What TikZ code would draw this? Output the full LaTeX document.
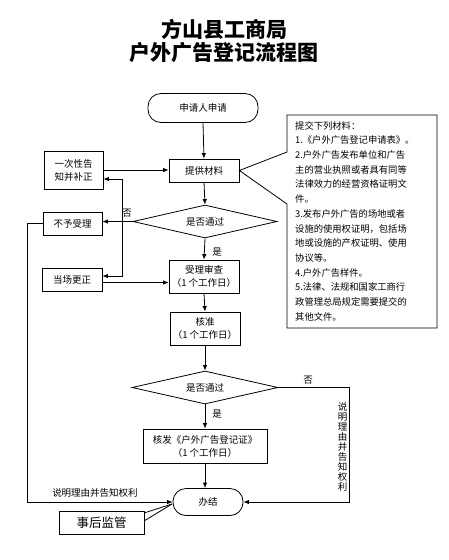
\documentclass[tikz,border=0pt]{standalone}
\usepackage{fontspec}
\setmainfont{Noto Sans CJK SC}
\usetikzlibrary{arrows.meta,shapes.geometric}
\tikzset{
  every node/.style={inner sep=0pt},
  nfont/.style={font=\fontsize{9.5}{13}\selectfont},
  box/.style={draw, rectangle, line width=0.8pt, align=center, nfont},
  term/.style={draw, rectangle, rounded corners=13pt, line width=0.8pt, align=center, nfont},
  dia/.style={draw, diamond, aspect=4.4, line width=0.8pt, align=center, nfont},
  arr/.style={line width=0.8pt, -{Latex[length=5.5pt,width=4.5pt]}},
  ln/.style={line width=0.8pt},
  lbl/.style={nfont}
}
\begin{document}
\begin{tikzpicture}[x=1pt,y=-1pt]
\useasboundingbox (0,0) rectangle (449,560);
% title
\node (t1) at (224,29) {\fontsize{21}{24}\selectfont\bfseries 方山县工商局};
\node (t2) at (224,53) {\fontsize{21}{24}\selectfont\bfseries 户外广告登记流程图};
% nodes
\node[term, minimum width=110pt, minimum height=29pt] (start) at (203,108) {申请人申请};
\node[box, minimum width=70pt, minimum height=23pt] (mat) at (204,170.5) {提供材料};
\node[box, minimum width=59pt, minimum height=38pt] (once) at (73.5,170) {一次性告\\知并补正};
\node[dia, minimum width=144pt, minimum height=33pt] (d1) at (205,221.5) {是否通过};
\node[box, minimum width=59pt, minimum height=23pt] (reject) at (72.5,223.5) {不予受理};
\node[box, minimum width=60pt, minimum height=23pt] (fix) at (72,279.5) {当场更正};
\node[box, minimum width=70pt, minimum height=33pt] (review) at (204,276.5) {受理审查\\（1 个工作日）};
\node[box, minimum width=70pt, minimum height=33pt] (approve) at (205,328.5) {核准\\（1 个工作日）};
\node[dia, minimum width=146pt, minimum height=33pt] (d2) at (205,387.5) {是否通过};
\node[box, minimum width=124pt, minimum height=34pt] (issue) at (205,446) {核发《户外广告登记证》\\（1 个工作日）};
\node[term, minimum width=70pt, minimum height=27pt] (end) at (208,502) {办结};
\node[box, minimum width=85pt, minimum height=23pt, font=\fontsize{12.5}{14}\selectfont] (sup) at (101.5,522.5) {事后监管};
% materials callout
\draw[ln] (287,115) -- (437,115) -- (437,328) -- (287,328) -- (287,204) -- (mat.east) -- (287,152) -- cycle;
\node[anchor=north west, align=left, font=\fontsize{9.3}{14.7}\selectfont] (matl) at (295,121) {提交下列材料：\\
1.《户外广告登记申请表》。\\
2.户外广告发布单位和广告\\
主的营业执照或者具有同等\\
法律效力的经营资格证明文\\
件。\\
3.发布户外广告的场地或者\\
设施的使用权证明，包括场\\
地或设施的产权证明、使用\\
协议等。\\
4.户外广告样件。\\
5.法律、法规和国家工商行\\
政管理总局规定需要提交的\\
其他文件。};
% connectors
\draw[arr] (start.south) -- (mat.north);
\draw[arr] (once.east) -- (once.east -| mat.west);
\draw[arr] (mat.south) -- (d1.north);
\draw[arr] (d1.west) -- (d1.west -| reject.east);
\node[lbl] (no1) at (127,213) {否};
\coordinate (j) at (122,221.5);
\coordinate (ju) at (122,179);
\coordinate (jd) at (122,276);
\draw[arr] (j) -- (ju) -- (ju -| once.east);
\draw[arr] (j) -- (jd) -- (jd -| fix.east);
\coordinate (fa) at (102,282.5);
\draw[arr] (fa) -- (fa -| review.west);
\draw[arr] (d1.south) -- (review.north);
\node[lbl] (yes1) at (217,252) {是};
\draw[arr] (review.south) -- (approve.north);
\draw[arr] (approve.south) -- (d2.north);
\draw[arr] (d2.south) -- (issue.north);
\node[lbl] (yes2) at (217,414) {是};
\draw[arr] (issue.south) -- (issue.south |- end.north);
% left return path
\coordinate (cl) at (27,502);
\draw[arr] (reject.west) -| (cl) -- (end.west);
\node[lbl] (why1) at (95,493) {说明理由并告知权利};
% right return path
\coordinate (cr) at (349,502);
\draw[arr] (d2.east) -| (cr) -- (end.east);
\node[lbl] (no2) at (308,380) {否};
\node[align=center, font=\fontsize{9.5}{10}\selectfont] (why2) at (342.5,447) {说\\明\\理\\由\\并\\告\\知\\权\\利};
% supervision callout
\draw[ln] (144,513) -- (172,504);
\draw[ln] (144,521) -- (172,504);
\end{tikzpicture}
\end{document}
